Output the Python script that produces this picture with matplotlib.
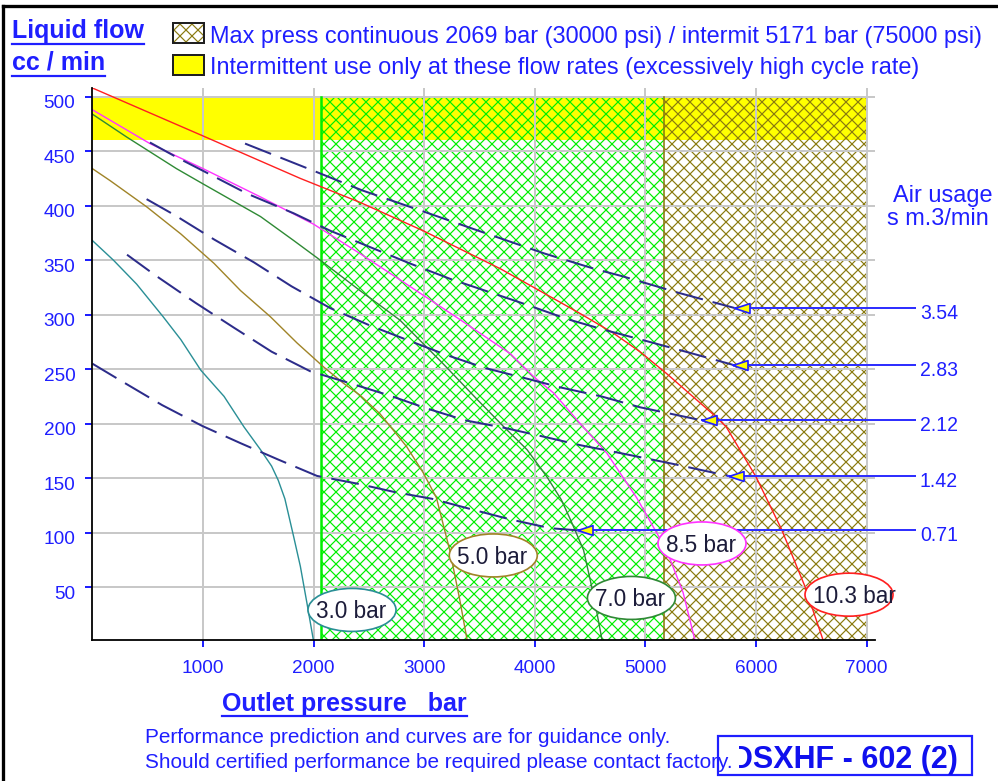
import matplotlib
matplotlib.use("Agg")
import matplotlib.pyplot as plt
from matplotlib.patches import Rectangle, Ellipse
from matplotlib.lines import Line2D
from matplotlib.transforms import Bbox, TransformedBbox, ScaledTranslation

# figure works at 72 dpi, so every size below (points) is also pixels
plt.rcParams['font.family'] = ['Liberation Sans', 'DejaVu Sans']
plt.rcParams['hatch.linewidth'] = 1.2
plt.rcParams['lines.scale_dashes'] = False

BLUE = '#1f1fff'
W, H = 998, 781
DPI = 72

# performance curves: outlet pressure (bar) vs liquid flow (cc/min) per drive air pressure
c30_x = [0, 190, 400, 640, 800, 980, 1190, 1370, 1520, 1620, 1680, 1740, 1820, 1880, 1940, 2000]
c30_y = [368, 350, 328, 298, 277, 249, 225, 197, 176, 161, 148, 131, 96, 69, 35, 0]
c50_x = [0, 160, 490, 800, 1100, 1340, 1610, 1850, 2090, 2270, 2420, 2600, 2840, 2990, 3110, 3230, 3320, 3390]
c50_y = [434, 423, 399, 374, 347, 322, 298, 274, 252, 237, 226, 209, 179, 155, 132, 84, 39, 0]
c70_x = [0, 310, 760, 1000, 1520, 1820, 2060, 2420, 2780, 3170, 3480, 3720, 3930, 4110, 4240, 4330, 4440, 4530, 4610]
c70_y = [484, 463, 434, 420, 390, 368, 350, 322, 295, 255, 222, 197, 176, 151, 130, 110, 84, 43, 0]
c85_x = [0, 520, 1000, 1520, 2000, 2420, 2780, 3330, 3780, 3990, 4170, 4410, 4650, 4920, 5190, 5340, 5450]
c85_y = [488, 457, 434, 408, 383, 356, 332, 295, 264, 243, 228, 200, 173, 132, 84, 45, 0]
c103_x = [0, 1000, 1880, 2420, 2990, 3330, 3690, 3990, 4410, 4710, 4950, 5190, 5640, 5730, 6000, 6230, 6440, 6610]
c103_y = [508, 464, 425, 403, 377, 360, 342, 325, 301, 283, 266, 246, 206, 197, 151, 103, 51, 0]

curve_names = ['3.0 bar', '5.0 bar', '7.0 bar', '8.5 bar', '10.3 bar']
curve_colors = ['#2a8f96', '#a08428', '#2f8a35', '#ff33ff', '#ff2020']
curve_xs = [c30_x, c50_x, c70_x, c85_x, c103_x]
curve_ys = [c30_y, c50_y, c70_y, c85_y, c103_y]
name_x = [2347, 3624, 4873, 5511, 6840]
name_y = [29, 79, 40, 90, 43]

# air usage (s m3/min) lines
a354_x = [1380, 2000, 2440, 3040, 3490, 4090, 4540, 4800, 5300, 5809]
a354_y = [457, 432, 414, 393, 377, 356, 342, 335, 320, 306]
a283_x = [520, 770, 1000, 1400, 1820, 2150, 2510, 2870, 3230, 3580, 3930, 4290, 4630, 5000, 5400, 5788]
a283_y = [458, 444, 432, 411, 393, 377, 362, 347, 333, 321, 309, 296, 286, 276, 265, 254]
a212_x = [490, 750, 1100, 1460, 1800, 2150, 2510, 2840, 3200, 3550, 3900, 4240, 4600, 4950, 5508]
a212_y = [406, 391, 369, 348, 326, 306, 290, 277, 263, 251, 242, 233, 225, 215, 203]
a142_x = [313, 570, 930, 1280, 1620, 1970, 2330, 2680, 3020, 3370, 3730, 4080, 4420, 4770, 5250, 5749]
a142_y = [355, 336, 311, 288, 266, 248, 237, 226, 214, 203, 196, 188, 180, 173, 163, 152]
a071_x = [0, 280, 630, 990, 1340, 1680, 2030, 2390, 2740, 3070, 3440, 3780, 4140, 4390]
a071_y = [255, 238, 217, 198, 182, 167, 152, 145, 137, 131, 121, 112, 104, 102]

air_labels = ['3.54', '2.83', '2.12', '1.42', '0.71']
air_xs = [a354_x, a283_x, a212_x, a142_x, a071_x]
air_ys = [a354_y, a283_y, a212_y, a142_y, a071_y]

# limits of operation
cont_max = 2069
inter_max = 5171
x_max = 7000
flow_high = 460
flow_max = 500

x_ticks = [1000, 2000, 3000, 4000, 5000, 6000, 7000]
y_ticks = [50, 100, 150, 200, 250, 300, 350, 400, 450, 500]

fig = plt.figure(figsize=(W / DPI, H / DPI), dpi=DPI)
ax = fig.add_axes([92.4 / W, 1 - 640 / H, (875 - 92.4) / W, (640 - 88) / H])
ax.set_xlim(0, 7075)
ax.set_ylim(1.4, 508)

# zones
ax.add_patch(Rectangle((0, flow_high), x_max, flow_max - flow_high, facecolor='#ffff00', edgecolor='none', zorder=0.5))
ax.add_patch(Rectangle((cont_max, 0), inter_max - cont_max, flow_max, facecolor='none', edgecolor='#00ee00',
                       hatch='xx', lw=0, zorder=0.6))
ax.add_patch(Rectangle((inter_max, 0), x_max - inter_max, flow_max, facecolor='none', edgecolor='#8a7a10',
                       hatch='xx', lw=0, zorder=0.6))
ax.plot([cont_max, cont_max], [0, flow_max], color='#00ee00', lw=2.5, zorder=1.6)
ax.plot([inter_max, inter_max], [0, flow_max], color='#8a7a10', lw=1.6, zorder=1.6)

ax.set_xticks(x_ticks)
ax.set_yticks(y_ticks)
ax.grid(True, color='#c8c8c8', lw=2)
for s in ['top', 'right']:
    ax.spines[s].set_visible(False)
for s in ['left', 'bottom']:
    ax.spines[s].set_linewidth(1.8)
ax.tick_params(axis='both', colors=BLUE, labelsize=19, length=7, width=2)
ax.tick_params(axis='y', pad=10)
ax.tick_params(axis='x', pad=13)
down = ScaledTranslation(0, -5 / DPI, fig.dpi_scale_trans)
for lab in ax.get_yticklabels():
    lab.set_transform(lab.get_transform() + down)

# pump curves
for xs, ys, c in zip(curve_xs, curve_ys, curve_colors):
    ax.plot(xs, ys, color=c, lw=1.4, zorder=2)

# air usage lines with arrows
line_end = 7436
shift = ScaledTranslation(7.5 / DPI, 0, fig.dpi_scale_trans)
for xs, ys, lab in zip(air_xs, air_ys, air_labels):
    ax.plot(xs, ys, color='#2c2c8a', lw=2, dashes=[28, 10], zorder=2.5)
    ax.plot([xs[-1], line_end], [ys[-1], ys[-1]], color='#3030ff', lw=2, zorder=3, clip_on=False)
    ax.plot([xs[-1]], [ys[-1]], marker=[(-1, 0), (1, 0.65), (1, -0.65), (-1, 0)], ms=15,
            mfc='#ffff00', mec='#2020ff', mew=1.7, transform=ax.transData + shift, zorder=3.5, clip_on=False)
    ax.annotate(lab, (line_end, ys[-1]), xytext=(5, -10.8), textcoords='offset points',
                ha='left', va='baseline', fontsize=19.5, color=BLUE, annotation_clip=False)

# curve name bubbles
for ex, ey, name, c in zip(name_x, name_y, curve_names, curve_colors):
    ax.add_patch(Ellipse((ex, ey), 88 / 0.11062, 43 / 1.0896, facecolor='white', edgecolor=c, lw=1.7,
                         zorder=4, clip_on=False))
    ax.annotate(name, (ex, ey), xytext=(-36, -8.5), textcoords='offset points',
                ha='left', va='baseline', fontsize=22.5, color='#1c1c3a', zorder=5, annotation_clip=False)

# figure texts
def ftext(x, y, s, **kw):
    return fig.text(x / W, 1 - y / H, s, va='baseline', ha='left', color=BLUE, **kw)

t1 = ftext(12, 38, 'Liquid flow', fontsize=25, fontweight='bold')
t2 = ftext(12, 70, 'cc / min', fontsize=25, fontweight='bold')
t3 = ftext(222, 710.7, 'Outlet pressure   bar', fontsize=25, fontweight='bold')
ftext(210, 42.7, 'Max press continuous 2069 bar (30000 psi) / intermit 5171 bar (75000 psi)', fontsize=23.5)
ftext(210, 74, 'Intermittent use only at these flow rates (excessively high cycle rate)', fontsize=23.5)
ftext(893, 201.7, 'Air usage', fontsize=23.5)
ftext(887, 225, 's m.3/min', fontsize=23.5)
ftext(145, 742.7, 'Performance prediction and curves are for guidance only.', fontsize=20.7)
ftext(145, 768.3, 'Should certified performance be required please contact factory.', fontsize=20.7, zorder=4)

# legend swatches
fig.add_artist(Rectangle((173 / W, 1 - 43.3 / H), 31 / W, 20 / H, transform=fig.transFigure,
                         facecolor='white', edgecolor='#8a7a10', hatch='xx', lw=0))
fig.add_artist(Rectangle((173 / W, 1 - 43.3 / H), 31 / W, 20 / H, transform=fig.transFigure,
                         fill=False, edgecolor='#202020', lw=2))
fig.add_artist(Rectangle((173 / W, 1 - 75 / H), 31 / W, 20 / H, transform=fig.transFigure,
                         facecolor='#ffff00', edgecolor='#202020', lw=2))

# model box
fig.add_artist(Rectangle((718 / W, 1 - 775 / H), 254 / W, 39 / H, transform=fig.transFigure,
                         facecolor='white', edgecolor=BLUE, lw=2.2, zorder=3))
tm = fig.text(958 / W, 1 - 768.3 / H, 'DSXHF - 602 (2)', ha='right', va='baseline', fontsize=30.5,
              fontweight='bold', color='#1010ee', zorder=3.5)
tm.set_clip_box(TransformedBbox(Bbox.from_extents(739 / W, 0, 972 / W, 1), fig.transFigure))

# frame
fig.add_artist(Line2D([3 / W, 3 / W], [0, 1 - 6 / H], transform=fig.transFigure, color='k', lw=3.3))
fig.add_artist(Line2D([3 / W, 1], [1 - 6 / H, 1 - 6 / H], transform=fig.transFigure, color='k', lw=3.3))

# underline the bold titles
fig.canvas.draw()
r = fig.canvas.get_renderer()
for t in [t1, t2, t3]:
    bb = t.get_window_extent(r)
    yb = t.get_position()[1] * H - 5.5
    fig.add_artist(Line2D([bb.x0 / W, bb.x1 / W], [yb / H, yb / H], transform=fig.transFigure,
                          color=BLUE, lw=2.2))

fig.savefig('out.png', dpi=DPI)
